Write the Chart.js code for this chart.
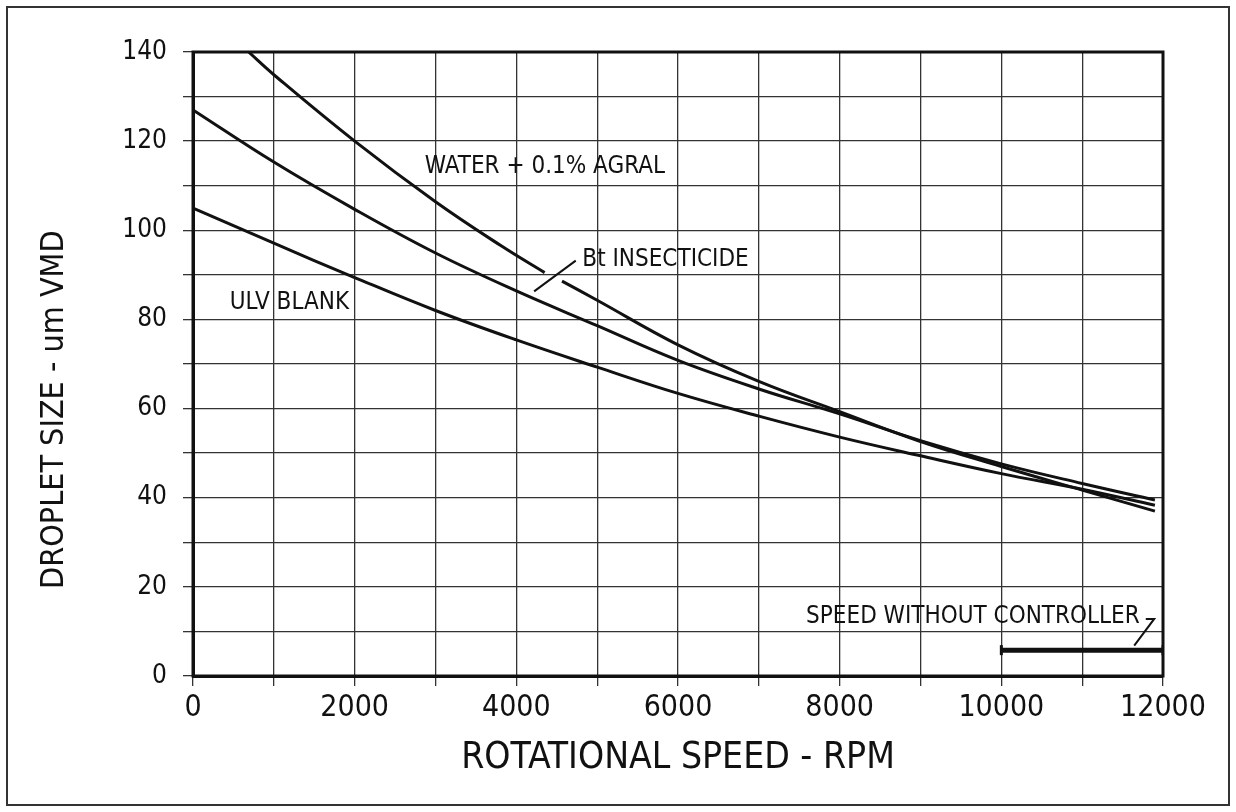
<!DOCTYPE html>
<html>
<head>
<meta charset="utf-8">
<script src="https://cdn.jsdelivr.net/npm/chart.js@4"></script>
<style>
  body { margin: 0; background: #fff; }
  #wrap { position: relative; width: 1236px; height: 812px; }
  #frame { position: absolute; left: 6px; top: 6px; width: 1220px; height: 796px; border: 2px solid #333; pointer-events: none; }
</style>
</head>
<body>
<div id="wrap">
  <canvas id="droplet-chart" width="1236" height="812"></canvas>
  <div id="frame"></div>
</div>
<script>
var FONT = "'Liberation Sans Narrow', 'DejaVu Sans Condensed', 'Arial Narrow', sans-serif";
var INK = "#111";

// curves (rpm, um VMD)
var waterRpm = [688, 1000, 2000, 3000, 3822, 4350, 4460, 4565, 5000, 6000, 7000, 8000, 9000, 10000, 11000, 11900];
var waterVmd = [140, 134.9, 120, 106.4, 96.4, 90.5, null, 88.6, 84.3, 74.3, 66.1, 59.3, 52.6, 47.0, 41.7, 37.0];

var btRpm = [0, 1000, 2000, 3000, 4000, 5000, 6000, 7000, 8000, 9000, 10000, 11000, 11900];
var btVmd = [127, 115.3, 104.7, 94.9, 86.4, 78.6, 70.8, 64.4, 58.8, 52.8, 47.6, 43.2, 39.5];

var ulvRpm = [0, 1000, 2000, 3000, 4000, 5000, 6000, 7000, 8000, 9000, 10000, 11000, 11900];
var ulvVmd = [105, 97.1, 89.4, 82.0, 75.4, 69.3, 63.4, 58.3, 53.6, 49.4, 45.4, 41.9, 38.3];

// speed range without controller
var speedRpm = [10000, 12000];
var speedVmd = [5.8, 5.8];

// leader lines
var btLeaderRpm = [4220, 4735];
var btLeaderVmd = [86.3, 93.2];
var speedLeaderRpm = [11787, 11891, 11644];
var speedLeaderVmd = [12.8, 12.8, 6.8];

// text labels inside the plot
var noteTexts = ["WATER + 0.1% AGRAL", "Bt INSECTICIDE", "ULV BLANK", "SPEED WITHOUT CONTROLLER"];
var noteRpm = [2868, 4817, 455, 7585];
var noteVmd = [114.2, 93.4, 83.8, 13.4];

function points(xs, ys) {
    return xs.map(function(x, i) { return {x: x, y: ys[i]}; });
}

function curve(label, xs, ys) {
    return {
        label: label,
        data: points(xs, ys),
        borderColor: INK,
        borderWidth: 3,
        pointRadius: 0,
        fill: false,
        tension: 0.4,
        spanGaps: false
    };
}

var notesPlugin = {
    id: "notes",
    afterDatasetsDraw: function(chart) {
        var ctx = chart.ctx;
        var xs = chart.scales.x, ys = chart.scales.y;
        ctx.save();
        ctx.fillStyle = INK;
        ctx.font = "24px " + FONT;
        ctx.textAlign = "left";
        ctx.textBaseline = "middle";
        for (var i = 0; i < noteTexts.length; i++) {
            ctx.fillText(noteTexts[i], xs.getPixelForValue(noteRpm[i]), ys.getPixelForValue(noteVmd[i]));
        }
        ctx.restore();
    },
    afterDraw: function(chart) {
        var a = chart.chartArea, ctx = chart.ctx;
        ctx.save();
        ctx.strokeStyle = INK;
        ctx.lineWidth = 3;
        ctx.strokeRect(a.left, a.top, a.right - a.left, a.bottom - a.top);
        ctx.restore();
    }
};

var context = document.getElementById("droplet-chart");
window.dropletChart = new Chart(context, {
    type: "line",
    data: {
        datasets: [
            curve("Water + 0.1% Agral", waterRpm, waterVmd),
            curve("Bt insecticide", btRpm, btVmd),
            curve("ULV blank", ulvRpm, ulvVmd),
            {
                label: "Speed without controller",
                data: points(speedRpm, speedVmd),
                borderColor: INK,
                borderWidth: 5,
                pointStyle: "line",
                rotation: 90,
                pointRadius: 5,
                pointBorderWidth: 3,
                pointBorderColor: INK
            },
            {
                label: "leader Bt",
                data: points(btLeaderRpm, btLeaderVmd),
                borderColor: INK,
                borderWidth: 2,
                pointRadius: 0,
                tension: 0
            },
            {
                label: "leader speed",
                data: points(speedLeaderRpm, speedLeaderVmd),
                borderColor: INK,
                borderWidth: 2,
                pointRadius: 0,
                tension: 0
            }
        ]
    },
    options: {
        responsive: false,
        animation: false,
        layout: { padding: { top: 52, right: 73, left: 0, bottom: 0 } },
        plugins: { legend: { display: false }, tooltip: { enabled: false } },
        scales: {
            x: {
                type: "linear",
                min: 0,
                max: 12000,
                ticks: {
                    stepSize: 1000,
                    autoSkip: false,
                    maxRotation: 0,
                    padding: 4,
                    color: INK,
                    font: { family: FONT, size: 30 },
                    callback: function(v) { return v % 2000 === 0 ? String(v) : ""; }
                },
                grid: { color: "#333", lineWidth: 1.3, tickLength: 10 },
                border: { color: INK, width: 3 },
                title: {
                    display: true,
                    text: "ROTATIONAL SPEED - RPM",
                    color: INK,
                    font: { family: FONT, size: 37 },
                    padding: { top: 0, bottom: 31 }
                },
                afterFit: function(s) { s.height = 136; }
            },
            y: {
                type: "linear",
                min: 0,
                max: 140,
                ticks: {
                    stepSize: 10,
                    padding: 16,
                    color: INK,
                    font: { family: FONT, size: 26 },
                    callback: function(v) { return v % 20 === 0 ? String(v) : ""; }
                },
                grid: { color: "#333", lineWidth: 1.3, tickLength: 10 },
                border: { color: INK, width: 3 },
                title: {
                    display: true,
                    text: "DROPLET SIZE - um VMD          ",
                    color: INK,
                    font: { family: FONT, size: 32 },
                    padding: { top: 35, bottom: 0 }
                },
                afterFit: function(s) { s.width = 193; }
            }
        }
    },
    plugins: [notesPlugin]
});
</script>
</body>
</html>
